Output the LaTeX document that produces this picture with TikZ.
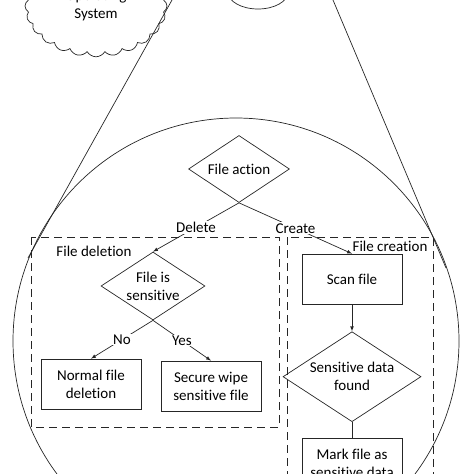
\documentclass[tikz,border=0pt]{standalone}
\usepackage{fontspec}
\setmainfont[Ligatures=NoCommon]{Carlito}
\usepackage{tikz}
\usetikzlibrary{positioning,shapes.geometric,shapes.symbols}
\usetikzlibrary{arrows}

\begin{document}
\begin{tikzpicture}[x=1pt,y=-1pt,line width=0.7pt,font=\fontsize{15}{18}\selectfont]
\tikzstyle{proc}=[rectangle, draw=black!85, minimum width=100pt, minimum height=50pt, align=center]
\tikzstyle{decide}=[diamond, draw=black!85, aspect=1.5, inner sep=0pt, align=center]
\tikzstyle{connect}=[-latex, draw=black!85]
\tikzstyle{lbl}=[fill=white, inner sep=1pt]
\tikzstyle{group}=[draw=black!85, dash pattern=on 8pt off 5pt]

\useasboundingbox (0,0) rectangle (474,474);
\clip (0,0) rectangle (474,474);

% operating system and the zoomed view
\node[cloud, draw=black!85, cloud puffs=24, cloud puff arc=120, minimum width=142pt, minimum height=98pt, align=center] (os) at (96,6) {Operating\\System};
\draw[black!85] (258,-8) ellipse (30pt and 17pt);
\coordinate (lt) at (172,0);
\coordinate (lb) at (28,258);
\coordinate (rt) at (333,0);
\coordinate (rb) at (446,268);
\draw[black!85] (lt) -- (lb);
\draw[black!85] (rt) -- (rb);
\draw[black!85] (236,341) circle (223pt);

  \node[decide, minimum width=101pt, minimum height=67pt] (act) at (239,169) {File action};
  \node[decide, minimum width=104pt, minimum height=68pt] (sens) at (153,286) {File is\\sensitive};
  \node[proc] (norm) at (91,384) {Normal file\\deletion};
  \node[proc] (wipe) at (211,386) {Secure wipe\\sensitive file};

  \node[proc] (scan) at (352,279) {Scan file};
  \node[decide, minimum width=138pt, minimum height=90pt, inner sep=-4pt] (found) [below=27pt of scan] {Sensitive data\\found};
  \node[proc] (mark) [below=16pt of found] {Mark file as\\sensitive data};

  \draw[connect] (act.south) -- node[lbl] {Delete} (sens.north);
  \draw[connect] (act.south) -- node[lbl] {Create} (scan.north);
  \draw[connect] (sens.south) -- node[lbl] {No} (norm.north);
  \draw[connect] (sens.south) -- node[lbl] {Yes} (wipe.north);
  \draw[connect] (scan) -- (found);
  \draw[black!85] (found) -- (mark);

% groups
\draw[group] (31,237) rectangle (279,427);
\node (dellbl) at (94,251) {File deletion};
\draw[group] (287,237) rectangle (433,500);
\node (crelbl) at (390,246) {File creation};
\end{tikzpicture}
\end{document}
